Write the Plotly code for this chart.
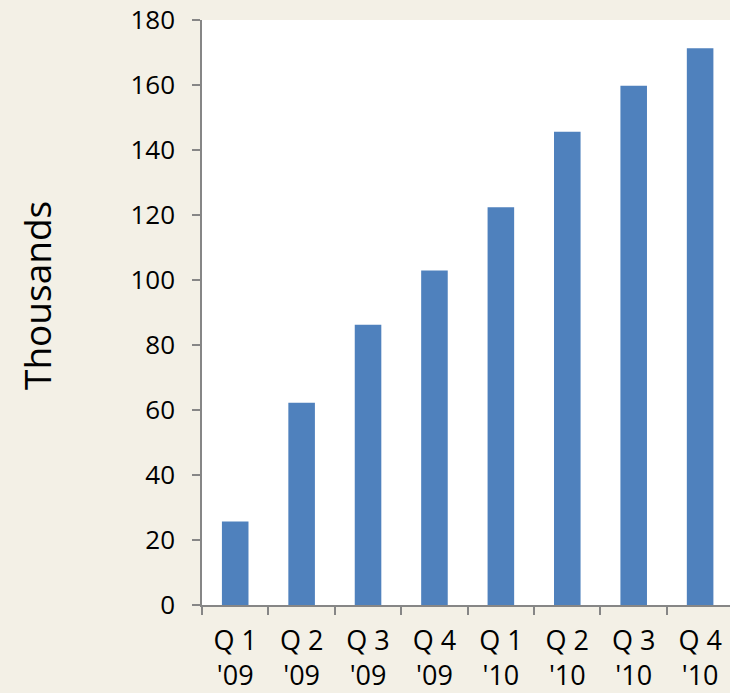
import plotly.graph_objects as go

quarters = ["Q 1", "Q 2", "Q 3", "Q 4", "Q 1", "Q 2", "Q 3", "Q 4"]
years = ["'09", "'09", "'09", "'09", "'10", "'10", "'10", "'10"]
values = [25.7, 62.2, 86.2, 102.9, 122.4, 145.6, 159.8, 171.3]
y_ticks = [0, 20, 40, 60, 80, 100, 120, 140, 160, 180]

labels = [f"{q}<br>{y}" for q, y in zip(quarters, years)]

fig = go.Figure(
    go.Bar(
        x=labels,
        y=values,
        width=0.4,
        marker=dict(color="#4F81BD", line=dict(width=0)),
    )
)

font_family = "Open Sans"
axis_grey = "#868686"

fig.update_layout(
    width=730,
    height=693,
    margin=dict(l=202, r=0, t=20, b=88),
    paper_bgcolor="#F3F0E6",
    plot_bgcolor="#FFFFFF",
    showlegend=False,
    font=dict(family=font_family, color="#000000", size=26),
    annotations=[
        dict(
            text="Thousands",
            textangle=-90,
            xref="paper",
            yref="paper",
            x=(36 - 202) / 528,
            y=(605 - 296) / 585,
            xanchor="center",
            yanchor="middle",
            showarrow=False,
            font=dict(family=font_family, size=37, color="#000000"),
        )
    ],
)

fig.update_xaxes(
    type="category",
    categoryorder="array",
    categoryarray=labels,
    range=[-0.5, 7.45],
    tickson="boundaries",
    ticks="outside",
    ticklen=8,
    tickwidth=1.5,
    tickcolor=axis_grey,
    showline=True,
    linecolor=axis_grey,
    linewidth=1.5,
    showgrid=False,
    zeroline=False,
    ticklabelstandoff=11,
    tickfont=dict(family=font_family, size=27),
)

fig.update_yaxes(
    range=[0, 180],
    tickmode="array",
    tickvals=y_ticks,
    ticks="outside",
    ticklen=8,
    tickwidth=1.5,
    tickcolor=axis_grey,
    showline=True,
    linecolor=axis_grey,
    linewidth=1.5,
    showgrid=False,
    zeroline=False,
    ticklabelstandoff=12,
    tickfont=dict(family=font_family, size=26),
)

fig.write_html("out.html")
